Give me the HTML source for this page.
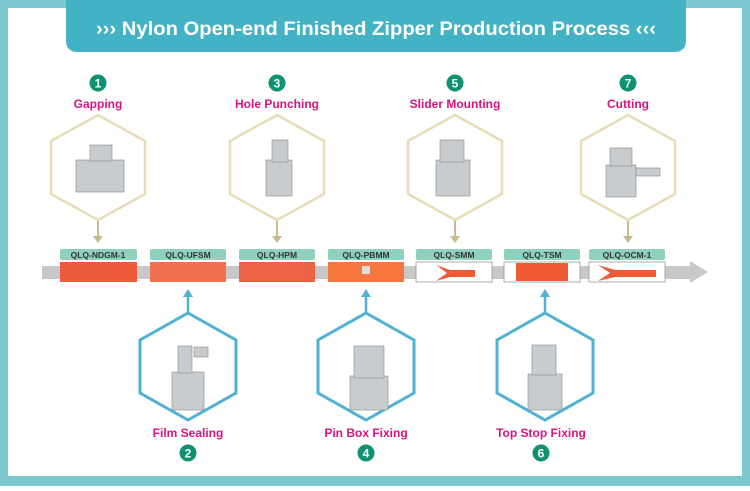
<!DOCTYPE html>
<html><head><meta charset="utf-8"><style>
body{margin:0;width:750px;height:486px;overflow:hidden;background:#fff;font-family:"Liberation Sans",sans-serif}
</style></head><body>
<svg width="750" height="486" viewBox="0 0 750 486" xmlns="http://www.w3.org/2000/svg" font-family="Liberation Sans, sans-serif">
<rect x="0" y="0" width="750" height="486" fill="#7cc8ce"/>
<rect x="8" y="8" width="734" height="468" fill="#fff"/>
<path d="M66 0 H686 V40 Q686 52 674 52 H78 Q66 52 66 40 Z" fill="#42b2c4"/>
<text x="376" y="35" text-anchor="middle" font-size="19" font-weight="bold" fill="#fff" textLength="560" lengthAdjust="spacingAndGlyphs">›››   Nylon Open-end Finished Zipper Production Process   ‹‹‹</text>
<!-- main line -->
<rect x="42" y="266" width="650" height="13" fill="#c8c8c8"/>
<polygon points="690,261 708,272 690,283" fill="#c8c8c8"/>
<g font-size="8.5" font-weight="bold" fill="#333" text-anchor="middle">
<rect x="60" y="249" width="77" height="11" rx="2" fill="#8fd0bf"/><text x="98" y="258">QLQ-NDGM-1</text>
<rect x="150" y="249" width="76" height="11" rx="2" fill="#8fd0bf"/><text x="188" y="258">QLQ-UFSM</text>
<rect x="239" y="249" width="76" height="11" rx="2" fill="#8fd0bf"/><text x="277" y="258">QLQ-HPM</text>
<rect x="328" y="249" width="76" height="11" rx="2" fill="#8fd0bf"/><text x="366" y="258">QLQ-PBMM</text>
<rect x="416" y="249" width="76" height="11" rx="2" fill="#8fd0bf"/><text x="454" y="258">QLQ-SMM</text>
<rect x="504" y="249" width="76" height="11" rx="2" fill="#8fd0bf"/><text x="542" y="258">QLQ-TSM</text>
<rect x="589" y="249" width="76" height="11" rx="2" fill="#8fd0bf"/><text x="627" y="258">QLQ-OCM-1</text>
</g>
<rect x="60" y="262" width="77" height="20" fill="#ee5a3c"/>
<rect x="150" y="262" width="76" height="20" fill="#f0704f"/>
<rect x="239" y="262" width="76" height="20" fill="#ee6246"/>
<rect x="328" y="262" width="76" height="20" fill="#f6773e"/>
<rect x="362" y="266" width="8" height="8" fill="#ddd"/>
<g fill="#fff" stroke="#999" stroke-width="0.8">
<rect x="416" y="262" width="76" height="20"/><rect x="504" y="262" width="76" height="20"/><rect x="589" y="262" width="76" height="20"/></g>
<polygon points="436,265 450,270 475,270 475,277 450,277 436,281 447,273" fill="#ef5a35"/>
<rect x="516" y="263" width="52" height="18" fill="#ef5a35"/>
<polygon points="598,265 615,270 656,270 656,277 615,277 598,281 610,273" fill="#ef5a35"/>
<!-- top hexes -->
<g fill="none" stroke="#e8dcb4" stroke-width="2.5">
<polygon points="98,115 145,141 145,194 98,220 51,194 51,141"/>
<polygon points="277,115 324,141 324,194 277,220 230,194 230,141"/>
<polygon points="455,115 502,141 502,194 455,220 408,194 408,141"/>
<polygon points="628,115 675,141 675,194 628,220 581,194 581,141"/>
</g>
<g stroke="#c9b98c" stroke-width="2" fill="#c9b98c">
<line x1="98" y1="221" x2="98" y2="238"/><polygon points="93,236 103,236 98,243" stroke="none"/>
<line x1="277" y1="221" x2="277" y2="238"/><polygon points="272,236 282,236 277,243" stroke="none"/>
<line x1="455" y1="221" x2="455" y2="238"/><polygon points="450,236 460,236 455,243" stroke="none"/>
<line x1="628" y1="221" x2="628" y2="238"/><polygon points="623,236 633,236 628,243" stroke="none"/>
</g>
<!-- bottom hexes -->
<g fill="none" stroke="#4eb2d2" stroke-width="3">
<polygon points="188,313 236,340 236,393 188,420 140,393 140,340"/>
<polygon points="366,313 414,340 414,393 366,420 318,393 318,340"/>
<polygon points="545,313 593,340 593,393 545,420 497,393 497,340"/>
</g>
<g stroke="#4eb2d2" stroke-width="2.5" fill="#4eb2d2">
<line x1="188" y1="295" x2="188" y2="313"/><polygon points="183,297 193,297 188,289" stroke="none"/>
<line x1="366" y1="295" x2="366" y2="313"/><polygon points="361,297 371,297 366,289" stroke="none"/>
<line x1="545" y1="295" x2="545" y2="313"/><polygon points="540,297 550,297 545,289" stroke="none"/>
</g>
<!-- machines -->
<g fill="#c9cccf" stroke="#888" stroke-width="0.6">
<rect x="76" y="160" width="48" height="32"/><rect x="90" y="145" width="22" height="16"/>
<rect x="266" y="160" width="26" height="36"/><rect x="272" y="140" width="16" height="22"/>
<rect x="436" y="160" width="34" height="36"/><rect x="440" y="140" width="24" height="22"/>
<rect x="606" y="165" width="30" height="32"/><rect x="610" y="148" width="22" height="18"/><rect x="636" y="168" width="24" height="8"/>
<rect x="172" y="372" width="32" height="38"/><rect x="178" y="346" width="14" height="27"/><rect x="194" y="347" width="14" height="10"/>
<rect x="350" y="376" width="38" height="34"/><rect x="354" y="346" width="30" height="32"/>
<rect x="528" y="374" width="34" height="36"/><rect x="532" y="345" width="24" height="30"/>
</g>
<g font-size="12" font-weight="bold" fill="#d8137e" text-anchor="middle">
<text x="98" y="108">Gapping</text><text x="277" y="108">Hole  Punching</text>
<text x="455" y="108">Slider Mounting</text><text x="628" y="108">Cutting</text>
<text x="188" y="437">Film Sealing</text><text x="366" y="437">Pin Box Fixing</text><text x="541" y="437">Top Stop Fixing</text>
</g>
<g fill="#0f9272">
<circle cx="98" cy="83" r="8.5"/><circle cx="277" cy="83" r="8.5"/><circle cx="455" cy="83" r="8.5"/><circle cx="628" cy="83" r="8.5"/>
<circle cx="188" cy="453" r="8.5"/><circle cx="366" cy="453" r="8.5"/><circle cx="541" cy="453" r="8.5"/>
</g>
<g font-size="12" font-weight="bold" fill="#fff" text-anchor="middle">
<text x="98" y="87.5">1</text><text x="277" y="87.5">3</text><text x="455" y="87.5">5</text><text x="628" y="87.5">7</text>
<text x="188" y="457.5">2</text><text x="366" y="457.5">4</text><text x="541" y="457.5">6</text>
</g>
</svg>
</body></html>
